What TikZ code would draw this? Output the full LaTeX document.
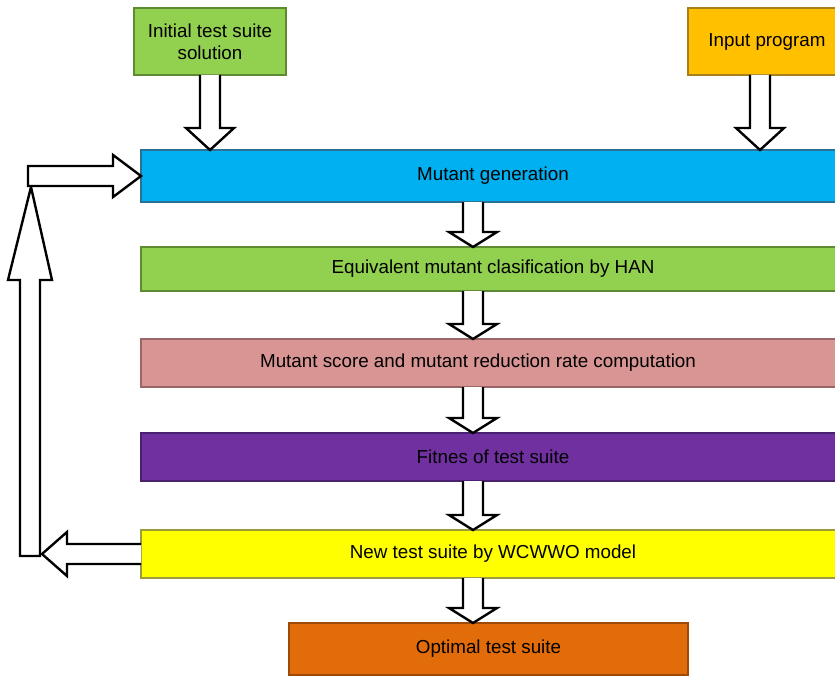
\documentclass[tikz,border=0pt]{standalone}
\usepackage{fontspec}
\setmainfont{Liberation Sans}
\usetikzlibrary{calc}

\definecolor{mgblue}{HTML}{00B0F0}
\definecolor{mgblueD}{HTML}{2A7196}
\definecolor{lgreen}{HTML}{92D050}
\definecolor{lgreenD}{HTML}{5E8B31}
\definecolor{rosy}{HTML}{D99594}
\definecolor{rosyD}{HTML}{9A6665}
\definecolor{violet}{HTML}{7030A0}
\definecolor{violetD}{HTML}{4A2070}
\definecolor{yel}{HTML}{FFFF00}
\definecolor{yelD}{HTML}{9C9C3A}
\definecolor{orng}{HTML}{E36C0A}
\definecolor{orngD}{HTML}{9C4A08}
\definecolor{amber}{HTML}{FFC000}
\definecolor{amberD}{HTML}{A8801A}

% hollow block arrow pointing down: #1 column, #2 upper node, #3 lower node, #4 head length
\newcommand{\hollowdown}[4]{%
  \draw[hollow]
    ($(#1|-#2.south)+(-10,0)$) -- ($(#1|-#3.north)+(-10,-#4)$)
    -- ($(#1|-#3.north)+(-24,-#4)$) -- (#1|-#3.north)
    -- ($(#1|-#3.north)+(24,-#4)$) -- ($(#1|-#3.north)+(10,-#4)$)
    -- ($(#1|-#2.south)+(10,0)$);}

\begin{document}
\begin{tikzpicture}[x=1pt,y=-1pt,
  box/.style={draw, line width=1.4pt, rectangle, outer sep=0pt, inner sep=0pt,
    align=center, font=\fontsize{18.8}{22}\selectfont},
  hollow/.style={draw=black, fill=white, line width=2.4pt, line join=miter}]
\useasboundingbox (0,0) rectangle (835,677);

% boxes
\node[box, fill=lgreen, draw=lgreenD, minimum width=152pt, minimum height=67pt]
  (init) at (210,41.5) {Initial test suite\\solution};
\node[box, fill=amber, draw=amberD, minimum width=158pt, minimum height=67pt]
  (input) at (767,41.5) {Input program};
\node[box, fill=mgblue, draw=mgblueD, minimum width=704pt, minimum height=52pt]
  (mut) at (493,176) {Mutant generation};
\node[box, fill=lgreen, draw=lgreenD, minimum width=704pt, minimum height=44pt]
  (equiv) at (493,269) {Equivalent mutant clasification by HAN};
\node[box, fill=rosy, draw=rosyD, minimum width=704pt, minimum height=48pt]
  (score) at (493,363) {\hspace*{-30pt}Mutant score and mutant reduction rate computation};
\node[box, fill=violet, draw=violetD, minimum width=704pt, minimum height=48pt]
  (fit) at (493,457) {Fitnes of test suite};
\node[box, fill=yel, draw=yelD, minimum width=704pt, minimum height=48pt]
  (new) at (493,554) {New test suite by WCWWO model};
\node[box, fill=orng, draw=orngD, minimum width=399pt, minimum height=52pt]
  (opt) at (488.5,649) {Optimal test suite};

% arrow columns
\coordinate (c1) at (210,0);
\coordinate (c2) at (760,0);
\coordinate (c3) at (473,0);

% downward hollow arrows
\hollowdown{c1}{init}{mut}{22}
\hollowdown{c2}{input}{mut}{22}
\hollowdown{c3}{mut}{equiv}{15}
\hollowdown{c3}{equiv}{score}{15}
\hollowdown{c3}{score}{fit}{15}
\hollowdown{c3}{fit}{new}{15}
\hollowdown{c3}{new}{opt}{15}

% feedback loop corners
\coordinate (lb) at ($(new.west)+(-111,0)$);
\coordinate (lt) at ($(mut.west)+(-111,0)$);

% leftward arrow out of the new test suite
\draw[hollow]
  ($(new.west)+(0,-10)$) -- ($(lb)+(37,-10)$) -- ($(lb)+(37,-22)$)
  -- ($(lb)+(12,0)$) -- ($(lb)+(37,22)$) -- ($(lb)+(37,10)$)
  -- ($(new.west)+(0,10)$);

% upward arrow along the left side
\draw[hollow]
  ($(lb)+(-10,2)$) -- ($(lb)+(10,2)$) -- ($(lt)+(10,104)$)
  -- ($(lt)+(22,104)$) -- ($(lt)+(1,11)$) -- ($(lt)+(-22,104)$)
  -- ($(lt)+(-10,104)$) -- cycle;

% rightward arrow back into mutant generation
\draw[hollow]
  ($(mut.west)+(0,0)$) -- ($(mut.west)+(-28,21)$) -- ($(mut.west)+(-28,10)$)
  -- ($(lt)+(-2,10)$) -- ($(lt)+(-2,-10)$) -- ($(mut.west)+(-28,-10)$)
  -- ($(mut.west)+(-28,-21)$) -- cycle;
\end{tikzpicture}
\end{document}
